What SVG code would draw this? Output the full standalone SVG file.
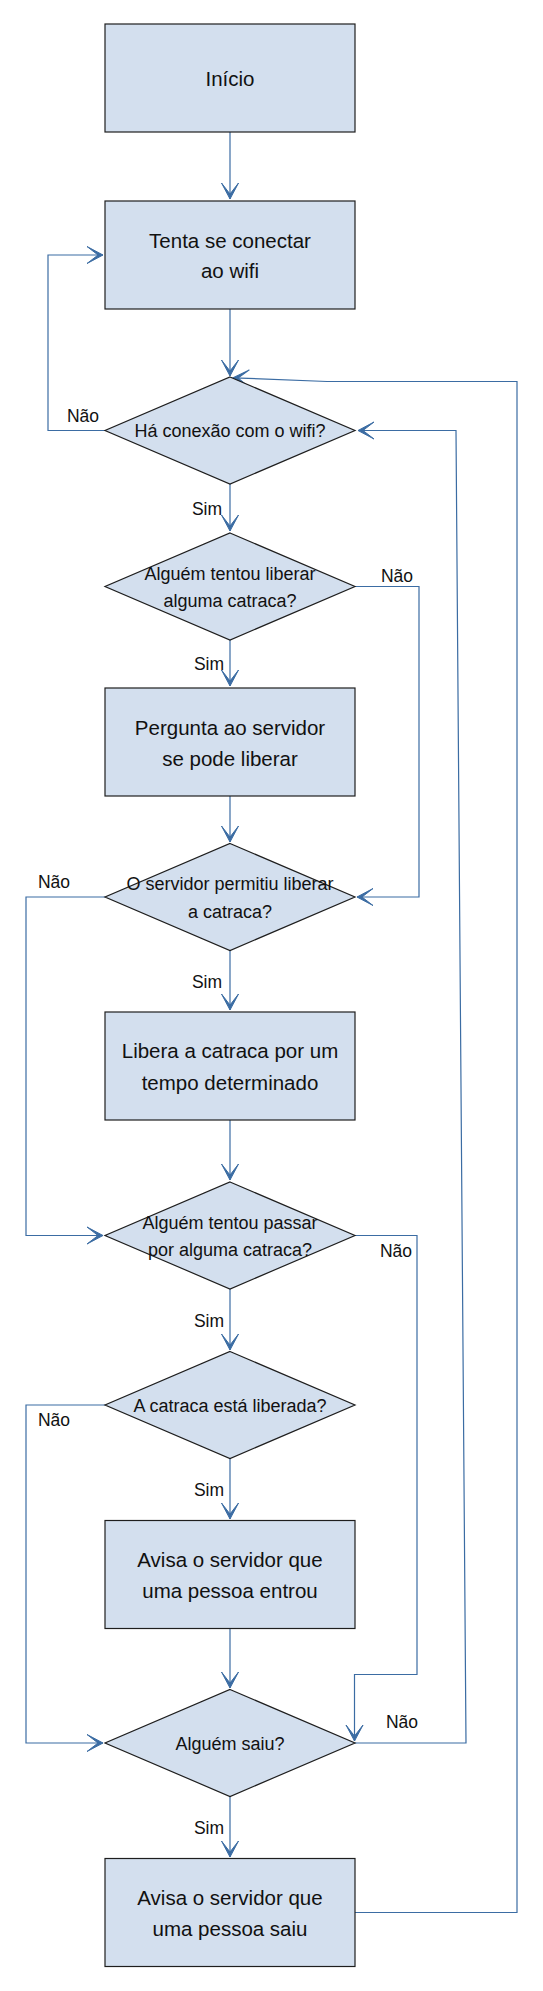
<svg xmlns="http://www.w3.org/2000/svg" width="543" height="1991" viewBox="0 0 543 1991">
<style>
.box{fill:#d3dfee;stroke:#1e1e1e;stroke-width:1.2}
.t{font-family:"Liberation Sans",Arial,sans-serif;fill:#111;text-anchor:middle}
.bt{font-size:20.5px}
.dt{font-size:18px}
.lb{font-size:17.5px}
.c{fill:none;stroke:#3b6ca3;stroke-width:1.2}
</style>
<defs>
<marker id="arr" markerUnits="userSpaceOnUse" viewBox="-18 -11 20 22" markerWidth="20" markerHeight="22" refX="0" refY="0" orient="auto">
<path d="M0,0 L-16,-8.5 L-5,0 L-16,8.5 Z" fill="#3b6ca3" stroke="#3b6ca3" stroke-width="1" stroke-linejoin="miter"/>
</marker>
</defs>
<rect width="543" height="1991" fill="#ffffff"/>

<g id="connectors">
<path class="c" marker-end="url(#arr)" d="M230,132 L230,199"/>
<path class="c" marker-end="url(#arr)" d="M230,309 L230,376"/>
<path class="c" marker-end="url(#arr)" d="M105,430.5 L48,430.5 L48,255 L103,255"/>
<path class="c" marker-end="url(#arr)" d="M230,484 L230,531"/>
<path class="c" marker-end="url(#arr)" d="M230,640 L230,686"/>
<path class="c" marker-end="url(#arr)" d="M355,586.5 L419,586.5 L419,897 L357,897"/>
<path class="c" marker-end="url(#arr)" d="M230,796 L230,842"/>
<path class="c" marker-end="url(#arr)" d="M230,950.5 L230,1010"/>
<path class="c" marker-end="url(#arr)" d="M105,897 L26,897 L26,1235.5 L103,1235.5"/>
<path class="c" marker-end="url(#arr)" d="M230,1120 L230,1180"/>
<path class="c" marker-end="url(#arr)" d="M230,1289 L230,1350"/>
<path class="c" marker-end="url(#arr)" d="M355,1235.5 L417,1235.5 L417,1674.5 L354.5,1674.5 L354.5,1741"/>
<path class="c" marker-end="url(#arr)" d="M105,1405 L26,1405 L26,1743 L103,1743"/>
<path class="c" marker-end="url(#arr)" d="M230,1458.5 L230,1519"/>
<path class="c" marker-end="url(#arr)" d="M230,1628.5 L230,1688"/>
<path class="c" marker-end="url(#arr)" d="M230,1796.5 L230,1857"/>
<path class="c" marker-end="url(#arr)" d="M355,1743 L466,1743 L456,430.5 L358,430.5"/>
<path class="c" marker-end="url(#arr)" d="M355,1912.5 L517,1912.5 L517,381.5 L327,381.5 L233,377.8"/>
</g>

<g id="labels">
<text class="t lb" x="83" y="422">Não</text>
<text class="t lb" x="207" y="515">Sim</text>
<text class="t lb" x="209" y="670">Sim</text>
<text class="t lb" x="397" y="582">Não</text>
<text class="t lb" x="54" y="888">Não</text>
<text class="t lb" x="207" y="988">Sim</text>
<text class="t lb" x="396" y="1257">Não</text>
<text class="t lb" x="209" y="1327">Sim</text>
<text class="t lb" x="54" y="1426">Não</text>
<text class="t lb" x="209" y="1496">Sim</text>
<text class="t lb" x="402" y="1728">Não</text>
<text class="t lb" x="209" y="1834">Sim</text>
</g>

<g id="n1">
<rect class="box" x="105" y="24" width="250" height="108"/>
<text class="t bt" x="230" y="86">Início</text>
</g>
<g id="n2">
<rect class="box" x="105" y="201" width="250" height="108"/>
<text class="t bt" x="230" y="247.5">Tenta se conectar</text>
<text class="t bt" x="230" y="278">ao wifi</text>
</g>
<g id="n3">
<path class="box" d="M230,377 L355,430.5 L230,484 L105,430.5 Z"/>
<text class="t dt" x="230" y="437">Há conexão com o wifi?</text>
</g>
<g id="n4">
<path class="box" d="M230,533 L355,586.5 L230,640 L105,586.5 Z"/>
<text class="t dt" x="230" y="579.5">Alguém tentou liberar</text>
<text class="t dt" x="230" y="607">alguma catraca?</text>
</g>
<g id="n5">
<rect class="box" x="105" y="688" width="250" height="108"/>
<text class="t bt" x="230" y="734.5">Pergunta ao servidor</text>
<text class="t bt" x="230" y="765.5">se pode liberar</text>
</g>
<g id="n6">
<path class="box" d="M230,843.5 L355,897 L230,950.5 L105,897 Z"/>
<text class="t dt" x="230" y="890">O servidor permitiu liberar</text>
<text class="t dt" x="230" y="917.5">a catraca?</text>
</g>
<g id="n7">
<rect class="box" x="105" y="1012" width="250" height="108"/>
<text class="t bt" x="230" y="1058">Libera a catraca por um</text>
<text class="t bt" x="230" y="1089.5">tempo determinado</text>
</g>
<g id="n8">
<path class="box" d="M230,1182 L355,1235.5 L230,1289 L105,1235.5 Z"/>
<text class="t dt" x="230" y="1228.5">Alguém tentou passar</text>
<text class="t dt" x="230" y="1256">por alguma catraca?</text>
</g>
<g id="n9">
<path class="box" d="M230,1351.5 L355,1405 L230,1458.5 L105,1405 Z"/>
<text class="t dt" x="230" y="1411.5">A catraca está liberada?</text>
</g>
<g id="n10">
<rect class="box" x="105" y="1520.5" width="250" height="108"/>
<text class="t bt" x="230" y="1566.5">Avisa o servidor que</text>
<text class="t bt" x="230" y="1598">uma pessoa entrou</text>
</g>
<g id="n11">
<path class="box" d="M230,1689.5 L355,1743 L230,1796.5 L105,1743 Z"/>
<text class="t dt" x="230" y="1749.5">Alguém saiu?</text>
</g>
<g id="n12">
<rect class="box" x="105" y="1858.5" width="250" height="108"/>
<text class="t bt" x="230" y="1904.5">Avisa o servidor que</text>
<text class="t bt" x="230" y="1936">uma pessoa saiu</text>
</g>
</svg>
